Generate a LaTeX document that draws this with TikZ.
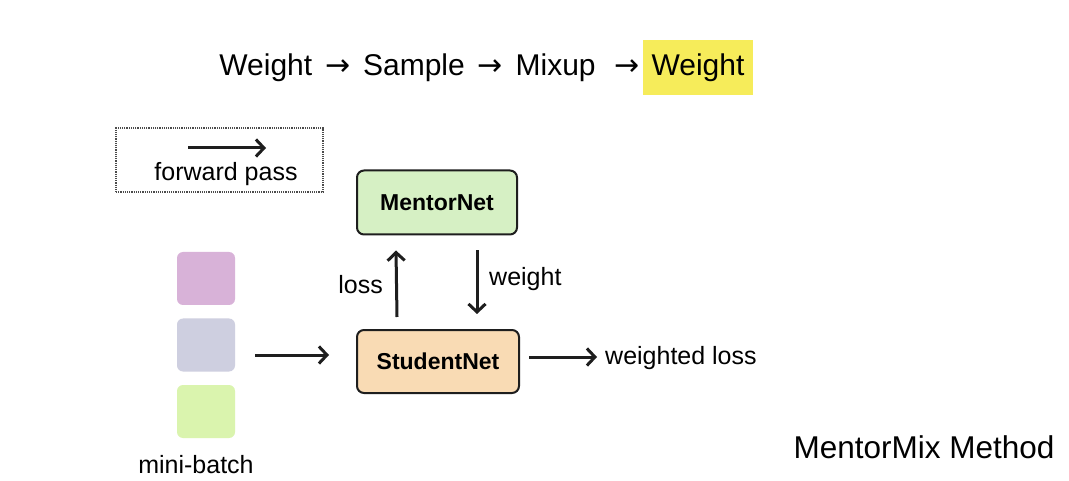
\documentclass[tikz,border=0pt]{standalone}
\usepackage{fontspec}
\setmainfont{Liberation Sans}
\newfontfamily\arrowfont{DejaVu Sans}
\usetikzlibrary{arrows.meta, positioning}
\definecolor{mydark}{RGB}{30,30,30}
\definecolor{mentorgreen}{RGB}{214,240,196}
\definecolor{studentorange}{RGB}{249,219,180}
\definecolor{hlyellow}{RGB}{246,236,90}
\definecolor{batchpink}{RGB}{216,178,216}
\definecolor{batchgray}{RGB}{206,207,224}
\definecolor{batchgreen}{RGB}{218,244,174}
\newcommand{\chainarrow}{\hspace{4.5pt}{\arrowfont →}\hspace{4.5pt}}
\tikzset{
  netbox/.style={rectangle, draw=mydark, line width=2pt, rounded corners=7pt,
    minimum width=160pt, minimum height=64pt, font=\fontsize{23}{28}\selectfont\bfseries},
  sample/.style={rectangle, rounded corners=6pt, minimum width=58pt,
    minimum height=53pt, inner sep=0pt},
  lbl/.style={font=\fontsize{25}{30}\selectfont, inner sep=0pt},
  bigtext/.style={font=\fontsize{30}{36}\selectfont, inner sep=0pt},
  arrow/.style={-{Straight Barb[length=8pt,width=17pt]}, line width=3pt, color=mydark}
}
\begin{document}
\begin{tikzpicture}[x=1pt, y=-1pt]
  \useasboundingbox [fill=white] (0,0) rectangle (1069,481);

  % title chain
  \node [bigtext, fill=hlyellow, minimum width=110pt, minimum height=55pt] (hl) at (698,67.5) {Weight};
  \node [bigtext, base left=3pt of hl] (chain) {Weight \chainarrow\ Sample \chainarrow\ Mixup\hspace{6pt} \chainarrow};

  % legend
  \node [rectangle, draw=mydark!80, dash pattern=on 1.2pt off 1pt, line width=1.6pt,
    minimum width=207pt, minimum height=64pt] (legend) at (219.5,160) {};
  \coordinate (fpa) at (188,148);
  \coordinate (fpb) at (266,148);
  \draw [arrow] (fpa) -- (fpb);
  \node [lbl, anchor=base] (fptext) at (226,181) {forward pass};

  % networks
  \node [netbox, fill=mentorgreen] (mentor) at (437,202.5) {MentorNet};
  \node [netbox, fill=studentorange, minimum width=162pt, minimum height=63pt] (student) at (438,361.5) {StudentNet};

  % mini-batch
  \node [sample, fill=batchpink] (bpink) at (206,278.5) {};
  \node [sample, fill=batchgray] (bgray) at (206,345) {};
  \node [sample, fill=batchgreen] (bgreen) at (206,411.5) {};
  \node [lbl] (batch) at (196,465) {mini-batch};

  % labels
  \node [lbl, anchor=east] (losslbl) at (383,285) {loss};
  \node [lbl, anchor=west] (weightlbl) at (489,279) {weight};
  \node [lbl, anchor=west] (wloss) at (605,358) {weighted loss};
  \node [font=\fontsize{31.5}{38}\selectfont, inner sep=0pt] (title) at (924,447) {MentorMix Method};

  % arrows
  \draw [arrow] ([xshift=-41pt, yshift=12pt]student.north) -- ([xshift=-41pt, yshift=-15pt]mentor.south);
  \draw [arrow] ([xshift=40pt, yshift=-15pt]mentor.south) -- ([xshift=39pt, yshift=15pt]student.north);
  \draw [arrow] ([xshift=20pt, yshift=-10pt]bgray.east) -- ([xshift=-27pt, yshift=6.5pt]student.west);
  \draw [arrow] ([xshift=9pt, yshift=4.5pt]student.east) -- ([xshift=-8pt]wloss.west |- 0,357);
\end{tikzpicture}
\end{document}
